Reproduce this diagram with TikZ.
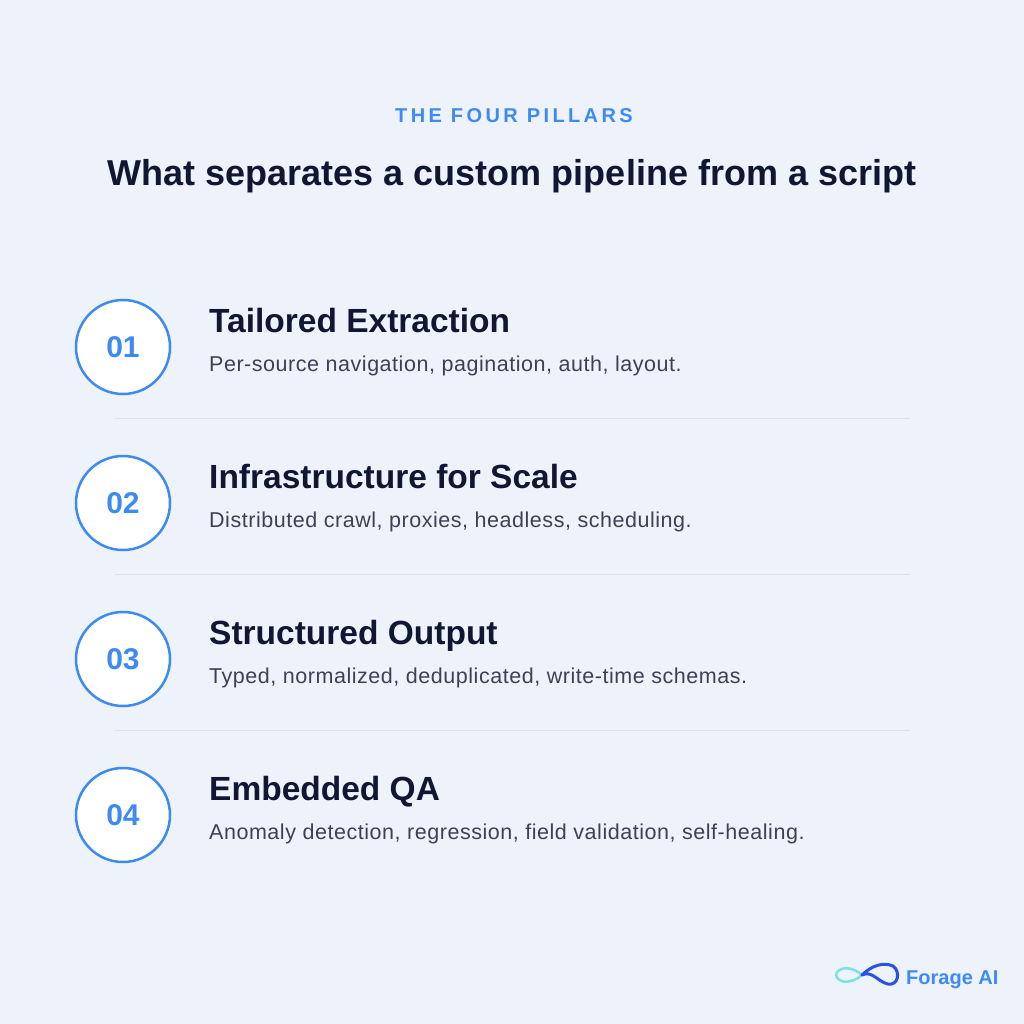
\documentclass[tikz,border=0pt]{standalone}
\usepackage{fontspec}
\setmainfont{Liberation Sans}
\begin{document}
\begin{tikzpicture}[x=1pt,y=-1pt,
  numc/.style={circle,draw=blu,line width=2.5pt,fill=white,minimum size=94pt,inner sep=0pt,font=\fontsize{30}{30}\selectfont\bfseries,text=blu},
  head/.style={anchor=base west,font=\fontsize{33.5}{34}\selectfont\bfseries,text=navy,inner sep=0pt},
  desc/.style={anchor=base west,font=\fontsize{21.5}{21}\selectfont\addfontfeature{LetterSpace=2.5},text=greyt,inner sep=0pt},
  divi/.style={draw=divc,line width=1pt}]
\definecolor{bgc}{HTML}{EEF2FA}
\definecolor{blu}{HTML}{3D8BF2}
\definecolor{navy}{HTML}{0F1733}
\definecolor{greyt}{HTML}{3A4256}
\definecolor{divc}{HTML}{DDE2EA}
\definecolor{cy}{HTML}{7FE0E0}
\definecolor{dblu}{HTML}{2A52E0}
\fill[bgc] (0,0) rectangle (1024,1024);
\useasboundingbox (0,0) rectangle (1024,1024);
\node[anchor=base,font=\fontsize{20}{20}\selectfont\bfseries\addfontfeature{LetterSpace=17},text=blu,inner sep=0pt] (kick) at (514,123) {THE FOUR PILLARS};
\node[anchor=base,font=\fontsize{36}{36}\selectfont\bfseries,text=navy,inner sep=0pt] (title) at (512,186) {What separates a custom pipeline from a script};
\foreach \i/\n/\h/\d in {0/01/Tailored Extraction/{Per-source navigation, pagination, auth, layout.},
 1/02/Infrastructure for Scale/{Distributed crawl, proxies, headless, scheduling.},
 2/03/Structured Output/{Typed, normalized, deduplicated, write-time schemas.},
 3/04/Embedded QA/{Anomaly detection, regression, field validation, self-healing.}}{
  \node[numc] (c\i) at (123,347+156*\i) {\n};
  \node[head] (h\i) at (209,332+156*\i) {\h};
  \node[desc] (d\i) at (209,371+156*\i) {\d};
}
\foreach \i in {0,1,2}{
  \coordinate (l\i) at (115,418+156*\i);
  \coordinate (r\i) at (910,418+156*\i);
  \draw[divi] (l\i) -- (r\i);
}
% logo
\draw[line width=2.5pt,line cap=round,color=cy] (862,975) .. controls (852,966) and (838,966) .. (836,975) .. controls (838,984) and (852,984) .. (862,975);
\draw[line width=3pt,line cap=round,color=dblu] (862,975) .. controls (872,965) and (884,962) .. (893,966) .. controls (901,972) and (898,986) .. (888,984) .. controls (878,982) and (872,970) .. (862,975);
\node[anchor=base west,font=\fontsize{20}{20}\selectfont\bfseries,text=blu,inner sep=0pt] (logo) at (906,984) {Forage AI};
\end{tikzpicture}
\end{document}
